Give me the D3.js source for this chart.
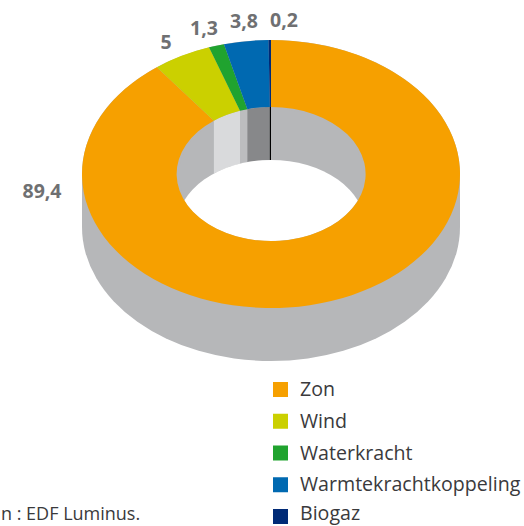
<!DOCTYPE html>
<html><head><meta charset="utf-8">
<script src="https://cdn.jsdelivr.net/npm/d3@7"></script>
<style>html,body{margin:0;padding:0;background:#fff;overflow:hidden}svg{display:block}text{font-family:"Open Sans","Noto Sans",sans-serif}</style>
</head><body><svg id="c" width="524" height="526"></svg>
<script>
const categories=["Zon","Wind","Waterkracht","Warmtekrachtkoppeling","Biogaz"];
const values=[89.4,5,1.3,3.8,0.2];
const valueLabels=["89,4","5","1,3","3,8","0,2"];
const colors=["#f6a000","#cbd000","#20a32f","#0069b1","#002a76"];
const wallColors=["#b6b7b9","#d9dadc","#bcbdbf","#87888a","#000000"];
const sourceText="n : EDF Luminus.";
const labelPos=[[42,198],[166,49],[204,35],[244,28],[284,27]];

const cx=271,cy=174,rx=189,ry=134,inner=0.5,depth=53;
const svg=d3.select("#c");
const x=d3.scaleLinear().domain([-1,1]).range([cx-rx,cx+rx]);
const y=d3.scaleLinear().domain([-1,1]).range([cy-ry,cy+ry]);
const pie=d3.pie().sort(null).value(d=>d)(values);

svg.append("defs").append("clipPath").attr("id","hole").append("ellipse")
  .attr("cx",cx).attr("cy",cy).attr("rx",rx*inner).attr("ry",ry*inner);

// Outer body
svg.append("ellipse").attr("cx",cx).attr("cy",cy+depth).attr("rx",rx).attr("ry",ry).attr("fill",wallColors[0]);
svg.append("rect").attr("x",cx-rx).attr("y",cy).attr("width",rx*2).attr("height",depth).attr("fill",wallColors[0]);
svg.append("ellipse").attr("cx",cx).attr("cy",cy).attr("rx",rx).attr("ry",ry).attr("fill",wallColors[0]);

// Inner wall segments, shaded per slice
const wall=d3.area()
  .x(a=>x(inner*Math.sin(a)))
  .y0(a=>y(-inner*Math.cos(a)))
  .y1(a=>y(-inner*Math.cos(a))+depth);
svg.append("g").selectAll("path").data(pie).join("path")
  .attr("fill",(d,i)=>wallColors[i])
  .attr("d",d=>wall(d3.range(13).map(k=>d.startAngle+(d.endAngle-d.startAngle)*k/12)));

// Opening through the ring
svg.append("ellipse").attr("clip-path","url(#hole)")
  .attr("cx",cx).attr("cy",cy+depth).attr("rx",rx*inner).attr("ry",ry*inner).attr("fill","#fff");

// Top face
const arc=d3.arc().innerRadius(inner).outerRadius(1);
svg.append("g").attr("transform",`translate(${cx},${cy}) scale(${rx},${ry})`)
  .selectAll("path").data(pie).join("path")
  .attr("fill",(d,i)=>colors[i]).attr("d",arc);

// Value labels
svg.append("g").selectAll("text").data(valueLabels).join("text")
  .attr("x",(d,i)=>labelPos[i][0]).attr("y",(d,i)=>labelPos[i][1])
  .attr("text-anchor","middle").attr("font-size",19.5).attr("font-weight",700)
  .attr("fill","#6f7072").text(d=>d);

// Legend
const row=d3.scaleLinear().domain([0,4]).range([382,509]);
const lg=svg.append("g").selectAll("g").data(categories).join("g")
  .attr("transform",(d,i)=>`translate(273,${row(i)})`);
lg.append("rect").attr("width",15).attr("height",15).attr("fill",(d,i)=>colors[i]);
lg.append("text").attr("x",27).attr("y",(d,i)=>i===4?11:14).attr("font-size",19.6).attr("fill","#3a3a3c").text(d=>d);

svg.append("text").attr("x",1).attr("y",520).attr("text-anchor","start")
  .attr("font-size",18).attr("fill","#3a3a3c").text(sourceText);
</script></body></html>
